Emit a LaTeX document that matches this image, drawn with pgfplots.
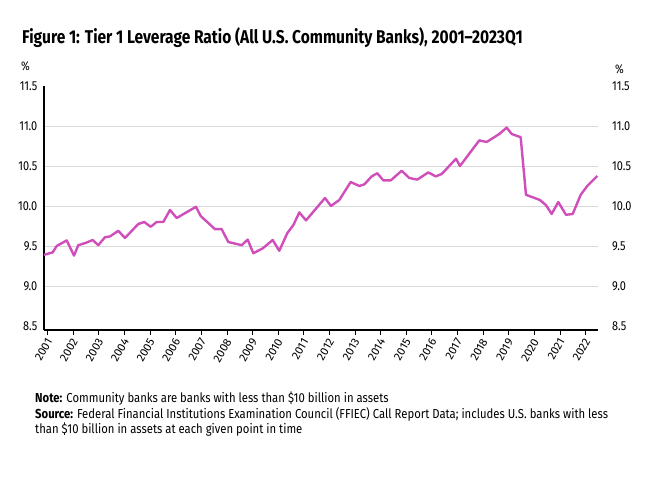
\documentclass[border=0pt]{standalone}
\usepackage{pgfplots}
\pgfplotsset{compat=1.18}
\usepackage{fontspec}
\setmainfont{Fira Sans}[FakeStretch=0.84]
\newfontfamily\notefont{Fira Sans}[FakeStretch=0.87]
\newfontfamily\tickfont{Fira Sans}
\definecolor{lev}{RGB}{207,78,186}
\definecolor{gridc}{RGB}{217,217,217}
\begin{document}
\begin{tikzpicture}[x=1pt,y=1pt]
\path[use as bounding box] (0,0) rectangle (662,-486);
\node[anchor=base west, inner sep=0pt, font=\fontsize{18.5}{21}\selectfont\bfseries] at (22,-44) {Figure 1: Tier 1 Leverage Ratio (All U.S. Community Banks), 2001--2023Q1};
\node[anchor=base west, inner sep=0pt, font=\fontsize{12.5}{14}\selectfont] at (21,-71) {\%};
\node[anchor=base west, inner sep=0pt, font=\fontsize{12.5}{14}\selectfont] at (615,-74) {\%};
\begin{axis}[
  at={(44pt,-330pt)}, anchor=south west,
  scale only axis, width=554pt, height=244pt,
  xmin=2000.856, xmax=2022.48, ymin=8.45, ymax=11.5,
  axis lines=left,
  axis line style={-, black, line width=1.1pt},
  clip=false,
  ytick={9,9.5,10,10.5,11},
  extra y ticks={8.5,11.5},
  extra y tick style={grid=none},
  ymajorgrids, grid style={gridc, line width=0.9pt},
  ytick style={draw=none},
  /pgf/number format/fixed, /pgf/number format/fixed zerofill,
  /pgf/number format/precision=1, /pgf/number format/assume math mode=true,
  yticklabel style={font=\fontsize{13}{15}\selectfont, inner sep=0pt, xshift=-4pt},
  xtick={2001,2002,2003,2004,2005,2006,2007,2008,2009,2010,2011,2012,2013,2014,2015,2016,2017,2018,2019,2020,2021,2022},
  xticklabels={2001,2002,2003,2004,2005,2006,2007,2008,2009,2010,2011,2012,2013,2014,2015,2016,2017,2018,2019,2020,2021,2022},
  xtick align=outside, major tick length=5pt,
  xtick style={black, line width=1pt},
  xticklabel style={font=\tickfont\fontsize{11.5}{13}\selectfont, rotate=60, anchor=east, inner sep=0.5pt, xshift=-2.5pt, yshift=-3.7pt},
]
\addplot[lev, line width=2.4pt, line join=round] coordinates {
(2000.856,9.39) (2001.195,9.42) (2001.351,9.50) (2001.742,9.57) (2002.027,9.38)
(2002.194,9.51) (2002.495,9.54) (2002.756,9.575) (2002.975,9.51) (2003.237,9.61)
(2003.432,9.62) (2003.756,9.69) (2004.017,9.60) (2004.536,9.775) (2004.770,9.80)
(2005.020,9.74) (2005.254,9.80) (2005.512,9.80) (2005.774,9.95) (2006.035,9.85)
(2006.788,9.99) (2006.972,9.875) (2007.530,9.71) (2007.792,9.71) (2008.049,9.55)
(2008.572,9.51) (2008.806,9.58) (2009.025,9.41) (2009.392,9.47) (2009.782,9.575)
(2010.040,9.44) (2010.352,9.66) (2010.586,9.76) (2010.821,9.92) (2011.082,9.82)
(2011.824,10.10) (2012.058,10.00) (2012.382,10.075) (2012.827,10.30) (2013.162,10.25)
(2013.358,10.27) (2013.646,10.37) (2013.865,10.41) (2014.099,10.32) (2014.388,10.32)
(2014.817,10.44) (2015.114,10.35) (2015.426,10.33) (2015.856,10.42) (2016.144,10.37)
(2016.379,10.40) (2016.937,10.59) (2017.093,10.50) (2017.846,10.82) (2018.135,10.80)
(2018.627,10.90) (2018.916,10.98) (2019.111,10.90) (2019.462,10.86) (2019.669,10.14)
(2020.215,10.075) (2020.450,10.01) (2020.672,9.90) (2020.930,10.05) (2021.230,9.89)
(2021.492,9.90) (2021.804,10.14) (2022.062,10.25) (2022.452,10.375)
};
\end{axis}
\begin{axis}[
  at={(44pt,-330pt)}, anchor=south west,
  scale only axis, width=554pt, height=244pt,
  xmin=2000.856, xmax=2022.48, ymin=8.45, ymax=11.5,
  hide x axis,
  axis y line*=right,
  y axis line style={draw=none},
  ytick={8.5,9,9.5,10,10.5,11,11.5},
  ytick style={draw=none},
  /pgf/number format/fixed, /pgf/number format/fixed zerofill,
  /pgf/number format/precision=1, /pgf/number format/assume math mode=true,
  yticklabel style={font=\fontsize{13}{15}\selectfont, inner sep=0pt, anchor=west, xshift=14pt},
]
\addplot[draw=none] coordinates {(2001,9)};
\end{axis}
\begin{scope}[every node/.style={anchor=base west, inner sep=0pt, font=\notefont\fontsize{13}{15}\selectfont}]
\node at (35,-403) {\textbf{Note:} Community banks are banks with less than \$10 billion in assets};
\node at (35,-418.5) {\textbf{Source:} Federal Financial Institutions Examination Council (FFIEC) Call Report Data; includes U.S. banks with less};
\node at (35,-434) {than \$10 billion in assets at each given point in time};
\end{scope}
\end{tikzpicture}
\end{document}
